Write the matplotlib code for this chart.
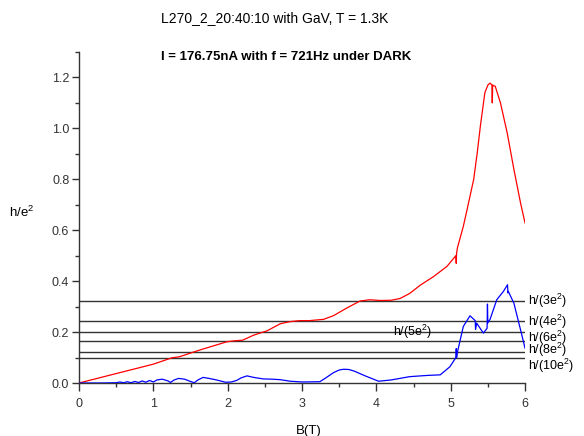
import numpy as np
import matplotlib
matplotlib.use("Agg")
import matplotlib.pyplot as plt
from matplotlib.ticker import MultipleLocator

plt.rcParams['font.family'] = ['Liberation Sans', 'DejaVu Sans']
plt.rcParams['mathtext.fontset'] = 'custom'
plt.rcParams['mathtext.rm'] = 'Liberation Sans'
plt.rcParams['mathtext.it'] = 'Liberation Sans'
plt.rcParams['mathtext.default'] = 'regular'

# red trace: Rxy (h/e^2) vs B
b_red = [0, 0.5, 1.0, 1.18, 1.25, 1.35, 1.63, 1.99, 2.1, 2.2, 2.35, 2.53, 2.71,
         2.84, 2.97, 3.1, 3.29, 3.42, 3.60, 3.78, 3.91, 4.05, 4.2, 4.32, 4.45,
         4.59, 4.77, 4.95, 5.07, 5.075, 5.08, 5.09, 5.17, 5.22, 5.31, 5.36,
         5.40, 5.46, 5.50, 5.53, 5.555, 5.56, 5.565, 5.60, 5.67, 5.76, 5.85,
         5.94, 6.0]
r_red = [0, 0.037, 0.074, 0.092, 0.099, 0.103, 0.130, 0.162, 0.166, 0.168, 0.188,
         0.205, 0.233, 0.241, 0.245, 0.245, 0.25, 0.264, 0.294, 0.322, 0.327,
         0.324, 0.325, 0.332, 0.352, 0.384, 0.418, 0.458, 0.50, 0.47, 0.51,
         0.53, 0.615, 0.68, 0.80, 0.91, 1.01, 1.14, 1.17, 1.178, 1.17, 1.10,
         1.17, 1.165, 1.10, 0.983, 0.84, 0.707, 0.629]

# blue trace: Rxx vs B
b_blue = [0, 0.3, 0.5, 0.55, 0.6, 0.65, 0.7, 0.75, 0.8, 0.85, 0.9, 0.95, 1.0,
          1.05, 1.12, 1.2, 1.23, 1.28, 1.34, 1.42, 1.5, 1.55, 1.6, 1.67, 1.75,
          1.85, 1.97, 2.05, 2.12, 2.18, 2.26, 2.35, 2.48, 2.6, 2.71, 2.84, 3.0,
          3.24, 3.32, 3.42, 3.5, 3.56, 3.63, 3.7, 3.85, 4.03, 4.2, 4.45, 4.7,
          4.86, 4.99, 5.07, 5.075, 5.08, 5.09, 5.17, 5.26, 5.33, 5.335, 5.35,
          5.44, 5.49, 5.495, 5.50, 5.53, 5.62, 5.71, 5.765, 5.77, 5.775, 5.85,
          5.94, 6.0]
r_blue = [0, 0, 0.001, 0.004, 0.001, 0.005, 0.001, 0.006, 0.002, 0.008, 0.003,
          0.01, 0.004, 0.012, 0.015, 0.008, 0.002, 0.012, 0.018, 0.015, 0.006,
          0.001, 0.012, 0.022, 0.018, 0.012, 0.003, 0.004, 0.01, 0.02, 0.028,
          0.022, 0.016, 0.015, 0.013, 0.007, 0.004, 0.005, 0.02, 0.04, 0.051,
          0.054, 0.053, 0.047, 0.028, 0.007, 0.012, 0.025, 0.03, 0.032, 0.064,
          0.10, 0.135, 0.10, 0.12, 0.222, 0.264, 0.245, 0.21, 0.235, 0.196,
          0.215, 0.31, 0.236, 0.25, 0.327, 0.36, 0.386, 0.354, 0.36, 0.314,
          0.209, 0.137]

# quantized plateau lines
plateau_vals = [0.324, 0.245, 0.2, 0.164, 0.123, 0.097]
plateau_labels = ['h/(3e$^2$)', 'h/(4e$^2$)', 'h/(5e$^2$)', 'h/(6e$^2$)',
                  'h/(8e$^2$)', 'h/(10e$^2$)']

fig = plt.figure(figsize=(5.84, 4.36), dpi=100)
ax = fig.add_axes([79 / 584, 1 - 383 / 436, 446 / 584, 331 / 436])

for v in plateau_vals:
    ax.plot([0, 6], [v, v], color='#333333', lw=1.0, zorder=1)

ax.plot(b_red, r_red, color='red', lw=0.9, zorder=3)
ax.plot(b_blue, r_blue, color='blue', lw=0.9, zorder=3)

# labels on the right (h/(5e^2) sits inside the plot)
right_y = {'h/(3e$^2$)': 0.321, 'h/(4e$^2$)': 0.241, 'h/(6e$^2$)': 0.176,
           'h/(8e$^2$)': 0.13, 'h/(10e$^2$)': 0.066}
for lab in plateau_labels:
    if lab in right_y:
        ax.text(6.04, right_y[lab], lab, fontsize=9, ha='left', va='center',
                clip_on=False)
ax.text(4.22, 0.2, 'h/(5e$^2$)', fontsize=9, ha='left', va='center')

ax.set_xlim(0, 6)
ax.set_ylim(0, 1.3)
ax.xaxis.set_major_locator(MultipleLocator(1))
ax.xaxis.set_minor_locator(MultipleLocator(0.5))
ax.yaxis.set_major_locator(MultipleLocator(0.2))
ax.yaxis.set_minor_locator(MultipleLocator(0.1))
ax.yaxis.set_major_formatter(plt.FuncFormatter(lambda v, p: f'{v:.1f}'))

for s in ['top', 'right']:
    ax.spines[s].set_visible(False)
for s in ['left', 'bottom']:
    ax.spines[s].set_color('#333333')
    ax.spines[s].set_linewidth(1.0)

ax.tick_params(which='major', direction='out', length=5, width=1,
               color='#333333', labelsize=9, labelcolor='#333333', pad=2)
ax.tick_params(which='minor', direction='out', length=3, width=1,
               color='#333333')
ax.tick_params(axis='x', which='major', length=6, pad=5)

ax.set_xlabel('B(T)', fontsize=9.5)
ax.xaxis.set_label_coords(0.516, -0.127)
ax.set_ylabel('h/e$^2$', fontsize=9.5, rotation=0, ha='center', va='center')
ax.yaxis.set_label_coords(-0.128, 0.514)

fig.text(275 / 584, 1 - 18 / 436, 'L270_2_20:40:10 with GaV, T = 1.3K',
         fontsize=10, ha='center', va='center')
fig.text(286 / 584, 1 - 57 / 436, 'I = 176.75nA with f = 721Hz under DARK',
         fontsize=9.5, fontweight='bold', ha='center', va='center')

fig.savefig('out.png', dpi=100)
